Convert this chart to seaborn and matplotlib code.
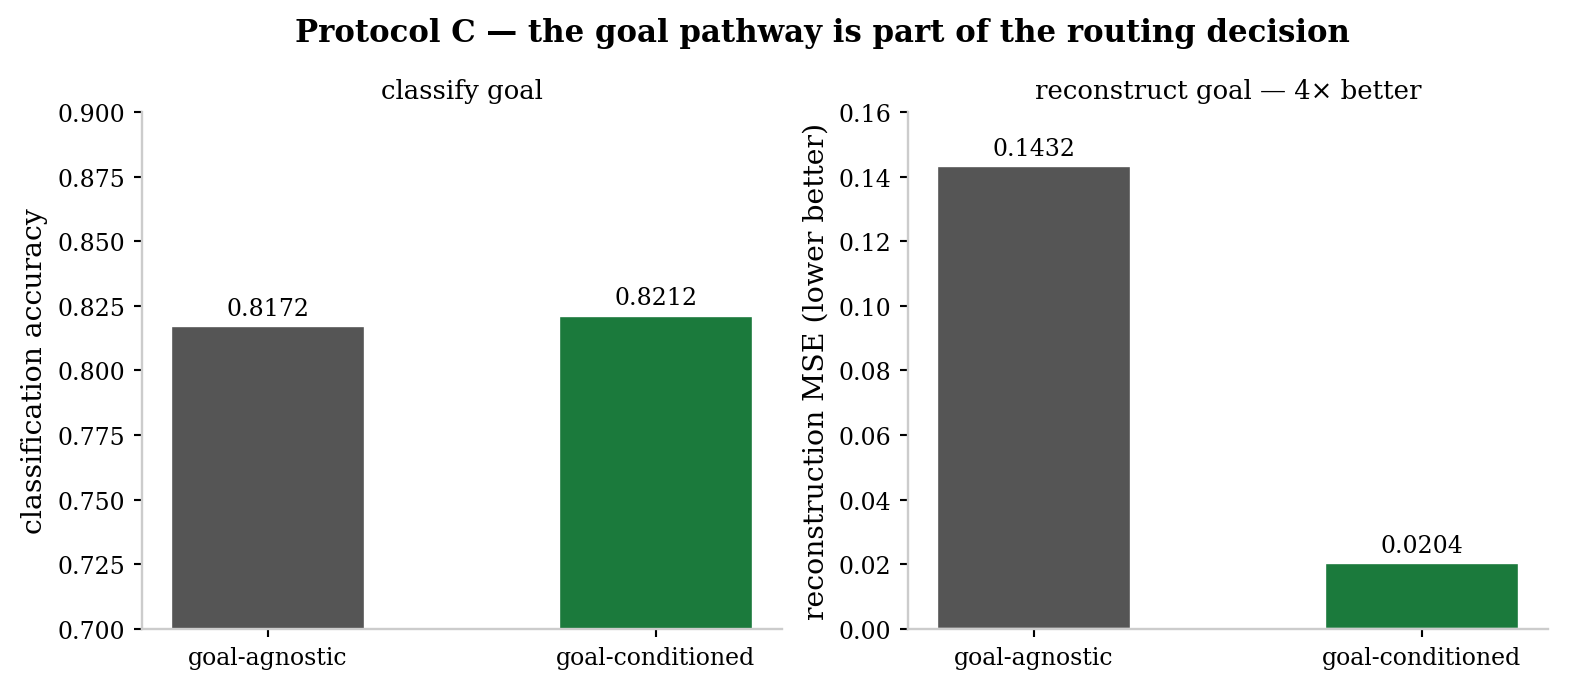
import matplotlib
matplotlib.use("Agg")
import matplotlib.pyplot as plt
import pandas as pd
import seaborn as sns

# ─── Data ───
MODELS = ["goal-agnostic", "goal-conditioned"]
ACCURACY = [0.8172, 0.8212]
RECON_MSE = [0.1432, 0.0204]
COLORS = ["#555555", "#1b7a3c"]

sns.set_style("white")
plt.rcParams["font.family"] = ["DejaVu Serif"]
plt.rcParams["text.color"] = "black"
plt.rcParams["axes.labelcolor"] = "black"
plt.rcParams["xtick.color"] = "black"
plt.rcParams["ytick.color"] = "black"


def draw_panel(ax, values, ylim, yticks, ylabel, title):
    df = pd.DataFrame({"model": MODELS, "value": values})
    sns.barplot(data=df, x="model", y="value", hue="model", palette=COLORS,
                width=0.5, legend=False, ax=ax, saturation=1)
    ax.set_xlim(-0.325, 1.325)
    ax.set_ylim(*ylim)
    ax.set_yticks(yticks)
    ax.set_xlabel("")
    ax.set_ylabel(ylabel, fontsize=12)
    ax.set_title(title, fontsize=11, color="black")
    ax.tick_params(axis="both", which="both", left=True, bottom=True,
                   length=3.5, width=0.9, color="black", labelsize=10)
    sns.despine(ax=ax)
    for side in ["left", "bottom"]:
        ax.spines[side].set_color("#cccccc")
        ax.spines[side].set_linewidth(1.0)
    span = ylim[1] - ylim[0]
    for i, v in enumerate(values):
        ax.text(i, v + span * 0.012, f"{v:.4f}", ha="center", va="bottom", fontsize=10)


fig = plt.figure(figsize=(1591 / 170, 701 / 170), dpi=170)
ax1 = fig.add_axes([0.0893, 0.1013, 0.4022, 0.7375])
ax2 = fig.add_axes([0.5707, 0.1013, 0.4023, 0.7375])

draw_panel(ax1, ACCURACY, (0.7, 0.9),
           [0.7, 0.725, 0.75, 0.775, 0.8, 0.825, 0.85, 0.875, 0.9],
           "classification accuracy", "classify goal")
ax1.yaxis.set_major_formatter(matplotlib.ticker.FormatStrFormatter("%.3f"))

draw_panel(ax2, RECON_MSE, (0.0, 0.16),
           [0.0, 0.02, 0.04, 0.06, 0.08, 0.10, 0.12, 0.14, 0.16],
           "reconstruction MSE (lower better)", "reconstruct goal — 4× better")
ax2.yaxis.set_major_formatter(matplotlib.ticker.FormatStrFormatter("%.2f"))

fig.suptitle("Protocol C — the goal pathway is part of the routing decision",
             fontsize=13, fontweight="bold", x=0.517, y=0.975)

fig.savefig("out.png", dpi=170)
plt.close(fig)
